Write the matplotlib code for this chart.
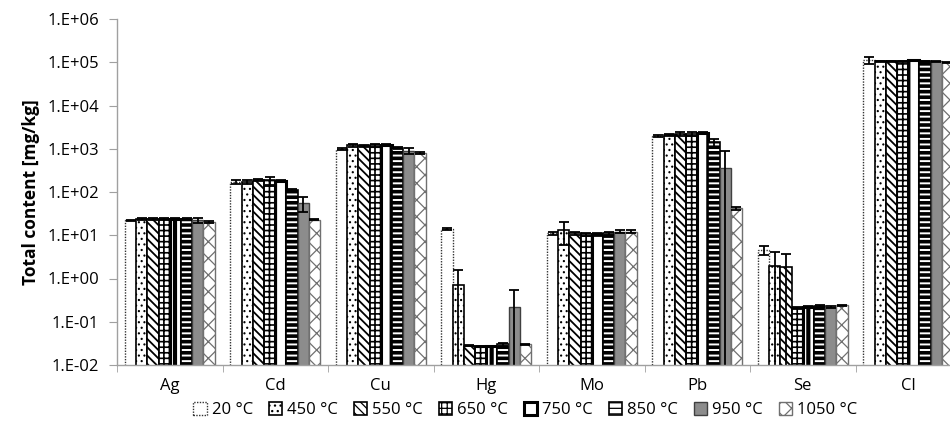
import matplotlib
matplotlib.use("Agg")
import matplotlib.pyplot as plt
from matplotlib.ticker import NullLocator
import numpy as np

plt.rcParams['font.family'] = ['Open Sans', 'DejaVu Sans']

elements = ["Ag", "Cd", "Cu", "Hg", "Mo", "Pb", "Se", "Cl"]
temps = ["20 °C", "450 °C", "550 °C", "650 °C", "750 °C", "850 °C", "950 °C", "1050 °C"]

# Mean total content [mg/kg] per temperature, in element order
t20 = [22, 170, 1000, 14, 11, 2000, 4.5, 110000]
t450 = [24, 170, 1200, 0.7, 13, 2050, 1.9, 105000]
t550 = [24, 190, 1150, 0.028, 11, 2200, 1.8, 105000]
t650 = [24, 185, 1200, 0.027, 10.5, 2200, 0.21, 105000]
t750 = [24, 180, 1250, 0.027, 10.5, 2300, 0.22, 110000]
t850 = [24, 110, 1050, 0.030, 11, 1400, 0.23, 105000]
t950 = [22, 55, 900, 0.22, 12, 350, 0.22, 105000]
t1050 = [20, 23, 800, 0.030, 12, 42, 0.24, 100000]

# Standard deviations
e20 = [1, 15, 60, 1, 1, 100, 1.0, 20000]
e450 = [1, 20, 100, 0.9, 7, 100, 2.1, 3000]
e550 = [1, 15, 60, 0.001, 1, 200, 1.8, 3000]
e650 = [1, 40, 80, 0.001, 1, 200, 0.01, 3000]
e750 = [1, 10, 60, 0.001, 1, 150, 0.01, 3000]
e850 = [1, 10, 60, 0.003, 1, 300, 0.01, 3000]
e950 = [3, 20, 150, 0.33, 1, 550, 0.01, 3000]
e1050 = [1, 1, 30, 0.001, 1, 3, 0.01, 3000]

means = [t20, t450, t550, t650, t750, t850, t950, t1050]
errs = [e20, e450, e550, e650, e750, e850, e950, e1050]

styles = [
    dict(fc="white", ec="#333333", ls=(0, (1, 1)), lw=1.0, hatch=None, hlw=0.8),
    dict(fc="white", ec="black", ls="-", lw=1.2, hatch="...", hlw=0.8),
    dict(fc="white", ec="black", ls="-", lw=1.2, hatch="\\\\\\\\", hlw=1.3),
    dict(fc="white", ec="black", ls="-", lw=1.2, hatch="+++", hlw=1.2),
    dict(fc="white", ec="black", ls="-", lw=2.2, hatch="|", hlw=3.0),
    dict(fc="white", ec="black", ls="-", lw=1.2, hatch="---", hlw=2.6),
    dict(fc="#8c8c8c", ec="#404040", ls="-", lw=1.0, hatch=None, hlw=1.0),
    dict(fc="white", ec="#707070", ls="-", lw=1.0, hatch="xx", hlw=0.9),
]

fig = plt.figure(figsize=(9.5, 4.32), dpi=100)
ax = fig.add_axes([117 / 950, 1 - 365 / 432, (961 - 117) / 950, (365 - 19) / 432])

n = len(temps)
x = np.arange(len(elements))
group = 0.85
w = group / n

for i, (lab, m, e, st) in enumerate(zip(temps, means, errs, styles)):
    plt.rcParams['hatch.linewidth'] = st["hlw"]
    plt.rcParams['hatch.color'] = "#202020"
    pos = x - group / 2 + w * (i + 0.5)
    ax.bar(pos, m, width=w, facecolor=st["fc"], edgecolor=st["ec"],
           linestyle=st["ls"], linewidth=st["lw"], hatch=st["hatch"], label=lab,
           yerr=e, error_kw=dict(ecolor="black", elinewidth=1.3, capsize=3.5, capthick=1.3),
           zorder=2)

ax.set_yscale("log")
ax.set_ylim(1e-2, 1e6)
ax.set_xlim(-0.5, len(elements) - 0.5)
exps = list(range(-2, 7))
ax.set_yticks([10.0 ** k for k in exps])
ax.set_yticklabels(["1.E%s%02d" % ("+" if k >= 0 else "-", abs(k)) for k in exps])
ax.yaxis.set_minor_locator(NullLocator())
ax.set_xticks(x)
ax.set_xticklabels(elements)
ax.set_xticks(np.arange(-0.5, len(elements)), minor=True)
ax.tick_params(axis="x", which="major", length=0, pad=9, labelsize=12)
ax.tick_params(axis="x", which="minor", length=5, color="#a0a0a0")
ax.tick_params(axis="y", length=6, color="#a0a0a0", labelsize=12, pad=7)

for s in ["top", "right"]:
    ax.spines[s].set_visible(False)
for s in ["left", "bottom"]:
    ax.spines[s].set_color("#a0a0a0")
    ax.spines[s].set_linewidth(1.0)

ax.set_ylabel("Total content [mg/kg]", fontsize=12.5, fontweight="bold", labelpad=5)

fig.legend(loc="center", bbox_to_anchor=(0.553, 0.051), ncol=8, frameon=False,
           fontsize=12, handlelength=0.8, handleheight=0.8, handletextpad=0.3,
           columnspacing=0.95)

fig.savefig("out.png", dpi=100)
